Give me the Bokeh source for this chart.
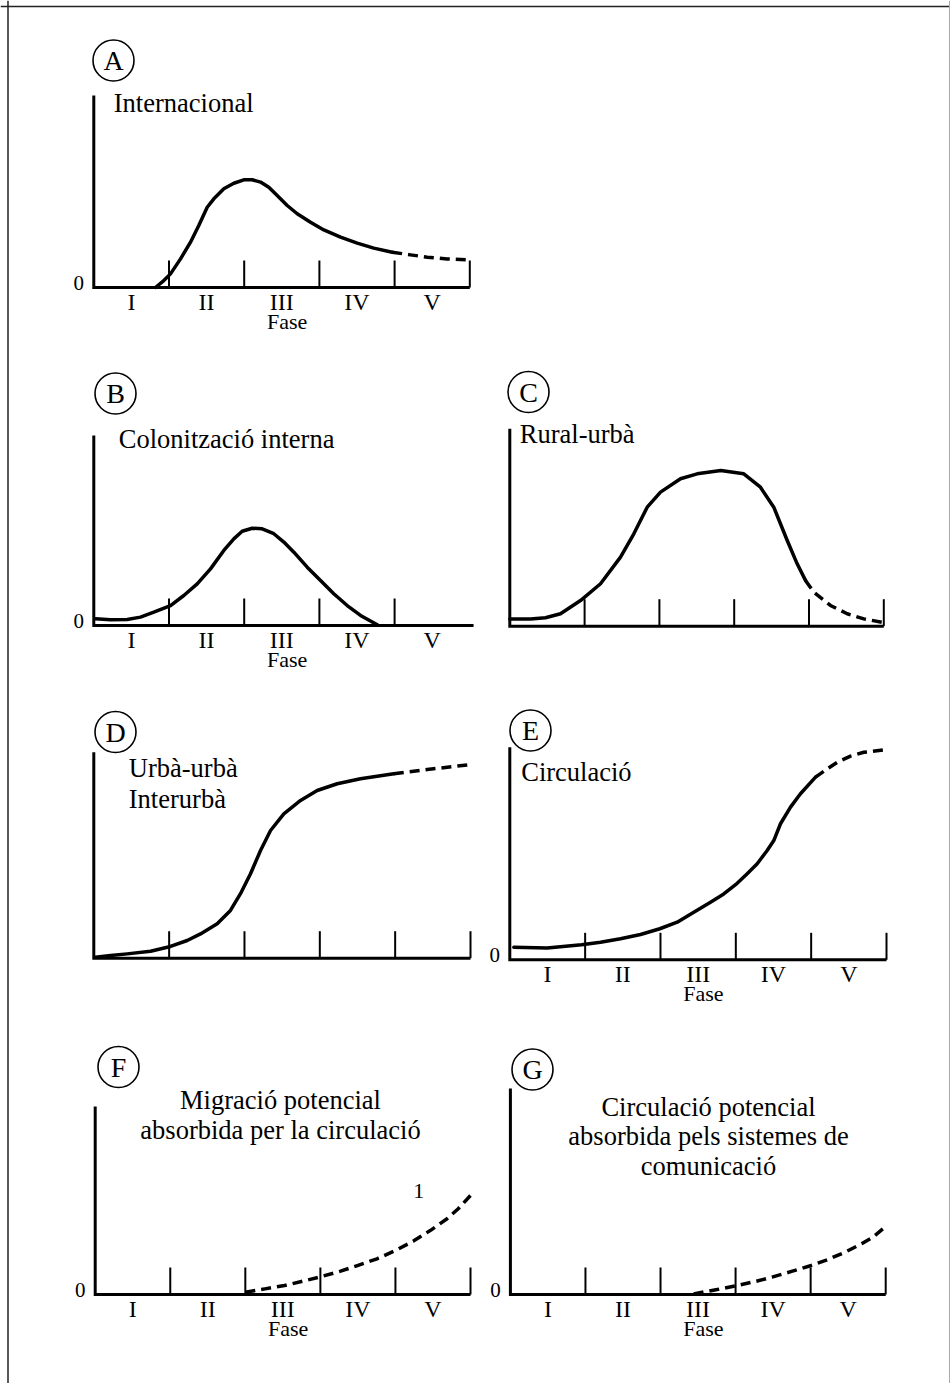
from bokeh.plotting import figure
from bokeh.models import Range1d, Span
from bokeh.embed import file_html
from bokeh.resources import INLINE
from bokeh.core.properties import value

W, H = 950, 1383
FONT = value("Liberation Serif")

# ---------------- data (phase units on x, relative level on y) ----------------
phase_labels = ["I", "II", "III", "IV", "V"]
phase_centers = [0.5, 1.5, 2.5, 3.5, 4.5]
phase_bounds = [1, 2, 3, 4, 5]
phase_bounds_b = [1, 2, 3, 4]

# A  Internacional
a_x = [0.82, 0.931, 1.02, 1.153, 1.286, 1.396, 1.508, 1.596, 1.729, 1.862, 1.995, 2.106,
       2.217, 2.327, 2.439, 2.572, 2.705, 2.882, 3.059, 3.281, 3.503, 3.723, 3.968]
a_y = [0.0, 0.036, 0.071, 0.149, 0.236, 0.323, 0.418, 0.462, 0.514, 0.543, 0.561, 0.561,
       0.549, 0.522, 0.479, 0.427, 0.384, 0.340, 0.300, 0.262, 0.231, 0.205, 0.184]
a_dash_x = [3.968, 4.211, 4.434, 4.699, 4.987]
a_dash_y = [0.184, 0.170, 0.158, 0.149, 0.144]

# B  Colonització interna
b_x = [0.023, 0.222, 0.444, 0.621, 0.798, 1.02, 1.197, 1.375, 1.552, 1.729, 1.862, 1.973,
       2.106, 2.239, 2.394, 2.527, 2.66, 2.838, 3.015, 3.191, 3.37, 3.547, 3.769]
b_y = [0.035, 0.030, 0.032, 0.044, 0.070, 0.105, 0.158, 0.219, 0.298, 0.395, 0.456, 0.496,
       0.512, 0.509, 0.483, 0.439, 0.386, 0.307, 0.237, 0.167, 0.105, 0.053, 0.004]

# C  Rural-urbà
c_x = [0.0, 0.277, 0.477, 0.678, 0.945, 1.213, 1.48, 1.658, 1.837, 2.015, 2.282, 2.505,
       2.82, 3.128, 3.351, 3.529, 3.709, 3.842, 3.953]
c_y = [0.037, 0.037, 0.043, 0.063, 0.130, 0.215, 0.350, 0.468, 0.603, 0.679, 0.747, 0.772,
       0.789, 0.772, 0.704, 0.603, 0.434, 0.316, 0.232]
c_dash_x = [3.953, 4.064, 4.287, 4.511, 4.733, 4.979]
c_dash_y = [0.232, 0.172, 0.105, 0.063, 0.037, 0.020]

# D  Urbà-urbà / Interurbà
d_x = [0.023, 0.222, 0.443, 0.753, 1.018, 1.24, 1.416, 1.638, 1.814, 1.947, 2.08, 2.213,
       2.346, 2.522, 2.744, 2.965, 3.231, 3.54, 3.982]
d_y = [0.005, 0.013, 0.021, 0.034, 0.057, 0.086, 0.118, 0.167, 0.232, 0.313, 0.410, 0.523,
       0.620, 0.701, 0.766, 0.814, 0.847, 0.871, 0.895]
d_dash_x = [3.982, 4.425, 4.691, 5.0]
d_dash_y = [0.895, 0.916, 0.927, 0.940]

# E  Circulació
e_x = [0.053, 0.496, 0.952, 1.204, 1.469, 1.735, 1.991, 2.222, 2.442, 2.664, 2.84, 3.018,
       3.151, 3.284, 3.416, 3.504, 3.593, 3.726, 3.858, 4.058]
e_y = [0.059, 0.056, 0.071, 0.083, 0.099, 0.119, 0.146, 0.177, 0.224, 0.271, 0.310, 0.360,
       0.405, 0.452, 0.514, 0.561, 0.640, 0.718, 0.781, 0.859]
e_dash_x = [4.058, 4.213, 4.345, 4.522, 4.699, 4.987]
e_dash_y = [0.859, 0.898, 0.929, 0.958, 0.976, 0.988]

# F  Migració potencial absorbida per la circulació
f_dash_x = [2.001, 2.262, 2.523, 2.747, 2.979, 3.269, 3.493, 3.754, 4.001, 4.239, 4.463,
            4.688, 4.837, 5.0]
f_dash_y = [0.012, 0.030, 0.048, 0.069, 0.092, 0.124, 0.154, 0.190, 0.234, 0.284, 0.340,
            0.403, 0.456, 0.527]

# G  Circulació potencial absorbida pels sistemes de comunicació
g_dash_x = [2.441, 2.739, 3.022, 3.261, 3.485, 3.746, 4.008, 4.231, 4.455, 4.679, 4.828, 5.0]
g_dash_y = [0.003, 0.023, 0.044, 0.063, 0.084, 0.112, 0.141, 0.170, 0.205, 0.246, 0.278, 0.330]

titles = {
    "A": ["Internacional"],
    "B": ["Colonització interna"],
    "C": ["Rural-urbà"],
    "D": ["Urbà-urbà", "Interurbà"],
    "E": ["Circulació"],
    "F": ["Migració potencial", "absorbida per la circulació"],
    "G": ["Circulació potencial", "absorbida pels sistemes de", "comunicació"],
}
f_curve_label = "1"

# ---------------- layout (page pixels) ----------------
panels = {
    "A": dict(ox=93.3, base=287.0, xend=469.3, top=95.0, axis_end=5.0, ticks=phase_bounds,
              phases=True, circle=(113, 60), title_xy=(113.3, 102.0), title_align="left"),
    "B": dict(ox=93.3, base=625.0, xend=469.3, top=435.0, axis_end=5.05, ticks=phase_bounds_b,
              phases=True, circle=(115, 393), title_xy=(118.3, 438.7), title_align="left"),
    "C": dict(ox=509.3, base=625.7, xend=883.3, top=428.3, axis_end=5.0, ticks=phase_bounds,
              phases=False, circle=(528, 391.5), title_xy=(519.3, 433.0), title_align="left"),
    "D": dict(ox=93.3, base=957.7, xend=470.0, top=751.7, axis_end=5.0, ticks=phase_bounds,
              phases=False, circle=(115, 731.5), title_xy=(128.3, 767.4), title_align="left"),
    "E": dict(ox=509.3, base=959.3, xend=886.0, top=746.7, axis_end=5.0, ticks=phase_bounds,
              phases=True, circle=(530, 730), title_xy=(520.7, 771.4), title_align="left"),
    "F": dict(ox=94.7, base=1294.0, xend=470.0, top=1106.0, axis_end=5.0, ticks=phase_bounds,
              phases=True, circle=(118, 1066.5), title_xy=(280.0, 1099.7), title_align="center"),
    "G": dict(ox=509.9, base=1294.0, xend=885.2, top=1088.0, axis_end=5.0, ticks=phase_bounds,
              phases=True, circle=(532, 1069), title_xy=(708.0, 1106.4), title_align="center"),
}
line_gap = {"D": 30.7, "F": 29.5, "G": 29.5}
TICK_PX = 27

# page coordinates on the default ranges
p = figure(width=W, height=H, x_range=Range1d(0, W), y_range=Range1d(H, 0),
           output_backend="svg", toolbar_location=None, min_border=0,
           x_axis_location=None, y_axis_location=None)
p.grid.visible = False
p.outline_line_color = None
p.background_fill_color = "white"

# page border
p.add_layout(Span(location=7.5, dimension="height", line_color="#222222", line_width=1.5))
p.add_layout(Span(location=6, dimension="width", line_color="#222222", line_width=1.5))
p.add_layout(Span(location=949, dimension="height", line_color="#aaaaaa", line_width=1))

# per-panel scales mapping phase units onto the page
for k, g in panels.items():
    pw = (g["xend"] - g["ox"]) / 5.0
    uh = g["base"] - g["top"]
    xs = -g["ox"] / pw
    p.extra_x_ranges[k] = Range1d(xs, xs + W / pw)
    ys = -(H - g["base"]) / uh
    p.extra_y_ranges[k] = Range1d(ys, ys + H / uh)
    g["pw"], g["uh"] = pw, uh

def curve(k, x, y, dashed=False):
    p.line(x, y, x_range_name=k, y_range_name=k, line_color="black", line_width=3.5,
           line_join="round", line_cap="butt" if dashed else "round",
           line_dash="10 6" if dashed else "solid")

def txt(x, y, t, size, align="center", **kw):
    p.text(x=x, y=y, text=t, text_align=align, text_baseline="middle", text_font=FONT,
           text_font_size=size, text_color="black", **kw)

for k, g in panels.items():
    kw = dict(x_range_name=k, y_range_name=k)
    # axes
    p.line([0, 0, g["axis_end"]], [1, 0, 0], line_color="black", line_width=3,
           line_join="miter", **kw)
    th = TICK_PX / g["uh"]
    p.segment(x0=g["ticks"], y0=[0] * len(g["ticks"]), x1=g["ticks"], y1=[th] * len(g["ticks"]),
              line_color="black", line_width=2, **kw)
    if g["phases"]:
        txt(phase_centers, [0] * 5, phase_labels, "24px", y_offset=14, **kw)
        txt([2.57], [0], ["Fase"], "22px", y_offset=34, **kw)
        txt([0], [0], ["0"], "21px", x_offset=-15, y_offset=-5, **kw)
    # circled letter
    cx, cy = g["circle"]
    p.scatter([cx], [cy], marker="circle", size=41, fill_color=None, line_color="black",
              line_width=1.6)
    txt([cx], [cy], [k], "28px")
    # title
    tx, ty = g["title_xy"]
    lines = titles[k]
    gap = line_gap.get(k, 30)
    txt([tx] * len(lines), [ty + i * gap for i in range(len(lines))], lines, "26.5px",
        align=g["title_align"])

curve("A", a_x, a_y)
curve("A", a_dash_x, a_dash_y, True)
curve("B", b_x, b_y)
curve("C", c_x, c_y)
curve("C", c_dash_x, c_dash_y, True)
curve("D", d_x, d_y)
curve("D", d_dash_x, d_dash_y, True)
curve("E", e_x, e_y)
curve("E", e_dash_x, e_dash_y, True)
curve("F", f_dash_x, f_dash_y, True)
curve("G", g_dash_x, g_dash_y, True)

# curve label "1" in panel F
txt([4.31], [0.553], [f_curve_label], "22px", x_range_name="F", y_range_name="F")

open("out.html", "w").write(file_html(p, INLINE))
